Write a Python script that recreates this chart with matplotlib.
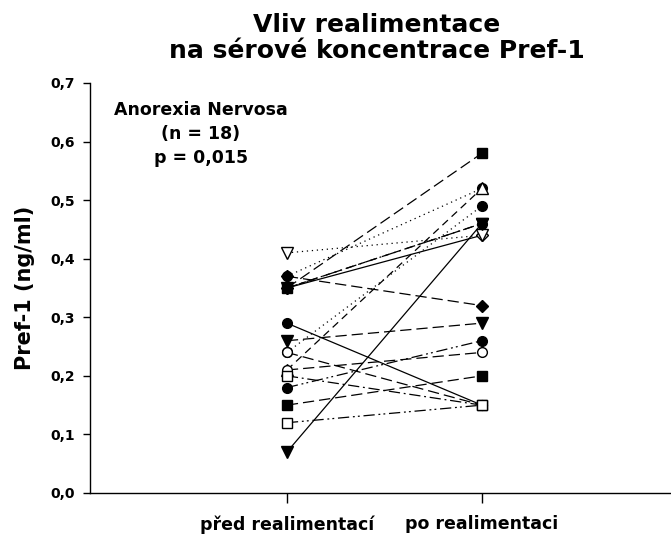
import numpy as np
import matplotlib
matplotlib.use("Agg")
import matplotlib.pyplot as plt

plt.rcParams['font.family'] = ['DejaVu Sans']

# Pref-1 (ng/ml) per patient, before and after realimentation
before = [0.37, 0.37, 0.35, 0.35, 0.35, 0.35, 0.21, 0.21, 0.24, 0.24,
          0.29, 0.26, 0.41, 0.07, 0.18, 0.15, 0.20, 0.12]
after = [0.52, 0.32, 0.58, 0.44, 0.46, 0.46, 0.52, 0.24, 0.49, 0.15,
         0.15, 0.29, 0.44, 0.46, 0.26, 0.20, 0.15, 0.15]
markers = ['o', 'D', 's', 'D', 'v', 'o', '^', 'o', 'o', 'o',
           'o', 'v', 'v', 'v', 'o', 's', 's', 's']
filled = [1, 1, 1, 0, 1, 1, 0, 0, 1, 0,
          1, 1, 0, 1, 1, 1, 0, 0]
styles = ['dot', 'long', 'long', 'solid', 'dash', 'dashdot', 'dash', 'long', 'dot', 'long',
          'solid', 'long', 'dot', 'solid', 'dashdotdot', 'long', 'dashdot', 'dashdotdot']

categories = ['před realimentací', 'po realimentaci']
yticks = [0.0, 0.1, 0.2, 0.3, 0.4, 0.5, 0.6, 0.7]

dash = {'solid': '-',
        'long': (0, (9, 4)),
        'dash': (0, (6, 4)),
        'dot': (0, (1, 3)),
        'dashdot': (0, (9, 3, 1.5, 3)),
        'dashdotdot': (0, (9, 3, 1.5, 2.5, 1.5, 3))}

W, H = 671, 534
fig = plt.figure(figsize=(W / 100, H / 100), dpi=100)
ax = fig.add_axes([90 / W, 1 - 493 / H, 581 / W, 410 / H])

x = [1, 2]
for b, a, m, f, s in zip(before, after, markers, filled, styles):
    size = {'o': 7, 's': 7, 'D': 6, 'v': 8.5, '^': 8.5}[m]
    ax.plot(x, [b, a], color='black', lw=0.9, ls=dash[s],
            marker=m, ms=size, mec='black', mew=1.0,
            mfc='black' if f else 'white')

ax.set_xlim(-0.01, 2.97)
ax.set_ylim(0, 0.7)
ax.set_xticks(x)
ax.set_xticklabels(categories, fontsize=12.5, fontweight='bold')
ax.set_yticks(yticks)
ax.set_yticklabels([f"{v:.1f}".replace('.', ',') for v in yticks],
                   fontsize=10, fontweight='bold')
ax.tick_params(axis='x', direction='out', length=7, width=1, pad=9)
ax.tick_params(axis='y', direction='out', length=5, width=1, pad=6)
for side in ('top', 'right'):
    ax.spines[side].set_visible(False)
for side in ('left', 'bottom'):
    ax.spines[side].set_linewidth(1.0)

ax.set_ylabel('Pref-1 (ng/ml)', fontsize=15, fontweight='bold', labelpad=11)

fig.text(377 / W, 1 - 38 / H, 'Vliv realimentace\nna sérové koncentrace Pref-1',
         ha='center', va='center', fontsize=18, fontweight='bold', linespacing=1.12)

fig.text(201 / W, 1 - 134 / H, 'Anorexia Nervosa\n(n = 18)\np = 0,015',
         ha='center', va='center', fontsize=12.5, fontweight='bold', linespacing=1.4)

fig.savefig('out.png', dpi=100)
